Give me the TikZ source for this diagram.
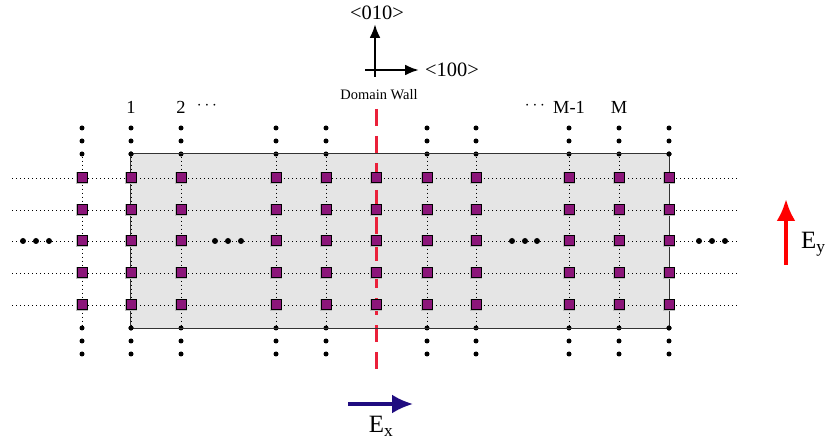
\documentclass[tikz,border=0pt]{standalone}
\usepackage{fontspec}
\setmainfont{Liberation Serif}
\usetikzlibrary{arrows.meta}

\definecolor{sitepurple}{RGB}{140,22,122}
\definecolor{wallred}{RGB}{234,32,58}
\definecolor{exblue}{RGB}{32,12,128}
\definecolor{slabgray}{RGB}{229,229,229}

\begin{document}
\begin{tikzpicture}[x=1bp,y=-1bp,
  sitebox/.style={rectangle, draw=black, line width=1bp, fill=sitepurple,
    minimum size=10bp, inner sep=0pt,
    preaction={draw=black!25, line width=2.6bp}},
  atomdot/.style={circle, fill=black, minimum size=5bp, inner sep=0pt},
  gapdot/.style={circle, fill=black, minimum size=6bp, inner sep=0pt},
  dotline/.style={black, line width=0.9bp, dash pattern=on 0.9bp off 3.1bp},
  slabbox/.style={rectangle, fill=slabgray,
    minimum width=538bp, minimum height=174bp, inner sep=0pt},
  wallline/.style={wallred, line width=3.2bp, dash pattern=on 17bp off 10bp},
  axisarrow/.style={black, line width=2.6bp, -{Latex[length=14bp,width=11bp]}},
  collabel/.style={font=\fontsize{18.5}{20}\selectfont, inner sep=0pt},
  dotslabel/.style={font=\fontsize{16}{17}\selectfont, inner sep=0pt},
  axislabel/.style={font=\fontsize{20.5}{22}\selectfont, inner sep=0pt},
  fieldlabel/.style={font=\fontsize{25}{28}\selectfont, inner sep=0pt}
]
\useasboundingbox (0,0) rectangle (827,443);

% slab of the film
\node[slabbox] (slab) at (400,241) {};

% horizontal chains of sites
\foreach \y [count=\j] in {178,210,241,273,305} {
  \coordinate (L\j) at (12,\y);
  \coordinate (R\j) at (738,\y);
  \draw[dotline] (L\j) -- (R\j);
}

% vertical chains with their continuation dots
\foreach \x [count=\i] in {82,131,181,276,326,427,476,569,619,669} {
  \node[atomdot] (t1-\i) at (\x,128) {};
  \node[atomdot] (t2-\i) at (\x,141) {};
  \node[atomdot] (t3-\i) at (\x,154) {};
  \node[atomdot] (b1-\i) at (\x,328) {};
  \node[atomdot] (b2-\i) at (\x,341) {};
  \node[atomdot] (b3-\i) at (\x,354) {};
  \draw[dotline] (t3-\i) -- (b1-\i);
}

% domain wall
\coordinate (wtop) at (376.5,109);
\coordinate (wbot) at (376.5,371);
\draw[wallline] (wtop) -- (wbot);

% slab outline
\draw[black!80, line width=1bp] (slab.north west) rectangle (slab.south east);
\foreach \i in {2,10} {
  \node[atomdot] at (t3-\i) {};
  \node[atomdot] at (b1-\i) {};
}

% sites
\foreach \x [count=\i] in {82,131,181,276,326,376,427,476,569,619,669} {
  \foreach \y [count=\j] in {178,210,241,273,305} {
    \node[sitebox] (s-\i-\j) at (\x,\y) {};
  }
}

% ellipsis dots on the middle chain
\foreach \x [count=\k] in {23,36,49,215,228,241,512,525,537,699,712,725} {
  \node[gapdot] (g\k) at (\x,241) {};
}

% crystal axes
\coordinate (vbase) at (375,77);
\coordinate (vtip) at (375,24);
\coordinate (hbase) at (365,70);
\coordinate (htip) at (419,70);
\draw[axisarrow] (vbase) -- (vtip);
\draw[axisarrow] (hbase) -- (htip);
\node[axislabel] (a010) at (377,13) {<010>};
\node[axislabel] (a100) at (452,70) {<100>};
\node[inner sep=0pt, font=\fontsize{14.5}{16}\selectfont] (dwlabel) at (379,95) {Domain Wall};

% column labels
\node[collabel] (c1) at (131,107) {1};
\node[collabel] (c2) at (181,107) {2};
\node[dotslabel] (cdl) at (207,106) {$\cdots$};
\node[dotslabel] (cdr) at (535,106) {$\cdots$};
\node[collabel] (cm1) at (569,107) {M-1};
\node[collabel] (cm) at (619,107) {M};

% applied fields
\coordinate (exs) at (348,404);
\coordinate (exe) at (413,404);
\draw[exblue, line width=3.2bp, -{Latex[length=21bp,width=19bp]}] (exs) -- (exe);
\node[fieldlabel] (exlabel) at (381,426) {E\textsubscript{x}};

\coordinate (eys) at (786,265);
\coordinate (eye) at (786,199);
\draw[red, line width=4bp, -{Latex[length=22bp,width=19bp]}] (eys) -- (eye);
\node[fieldlabel, anchor=west] (eylabel) at (801,244) {E\textsubscript{y}};
\end{tikzpicture}
\end{document}
